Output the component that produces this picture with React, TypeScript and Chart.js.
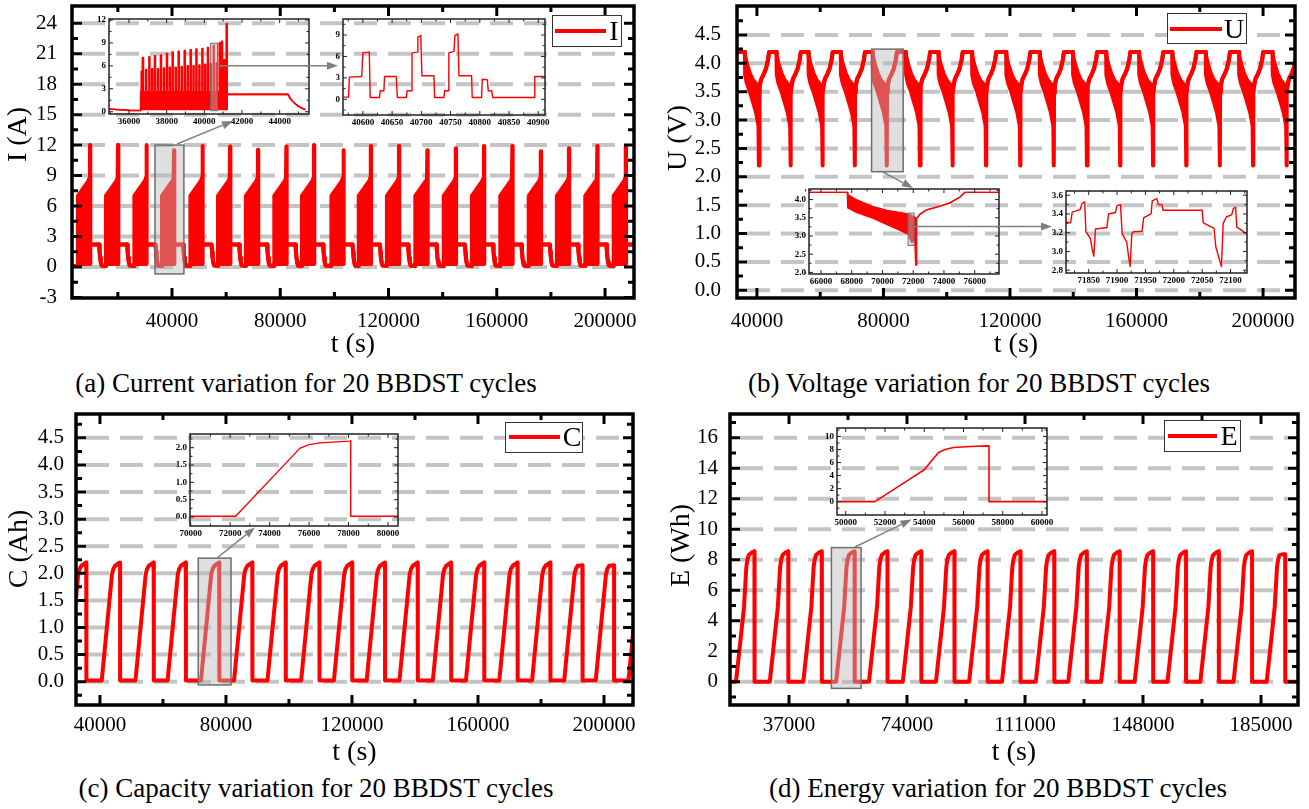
import React, { useEffect, useRef } from 'react';
import { Chart, registerables } from 'chart.js';

Chart.register(...registerables);

const SERIF = "'Liberation Serif', 'Times New Roman', serif";
const RED = '#ff0000';

// ================= (a) Current =================
const cycleStartsA = [5250, 15600, 26100, 36300, 46800, 57000, 67300, 77800, 88000, 98900, 109000, 119400, 129900, 140400, 150800, 161300, 171800, 182200, 192700, 203200];
const peakA = [12, 12, 12, 11.5, 11.9, 11.85, 11.55, 11.85, 12, 11.5, 11.9, 11.9, 11.5, 11.7, 11.9, 11.9, 11.4, 11.7, 11.9, 11.9];
const offsetA = [0, 0, 3950, 4300, 4450, 4570, 4570, 7820, 8000, 8200, 8450, 8750];
const upperA = [0.1, 7.0, 8.5, 8.8, null, null, 2.2, 2.2, 1.5, 0.9, 0.45, 0.15];
const lowerA = [0.1, 0.3, 0.3, 0.3, 0.3, 0.3, 2.2, 2.2, 1.5, 0.9, 0.45, 0.15];
const restA = 0.1;

// inset a1 (one cycle)
const a1PreT = [34938, 35500, 36000, 36620];
const a1PreV = [0.35, 0.25, 0.18, 0.15];
const a1ColT = [36674, 36743, 36913, 37083, 37232, 37381, 37540, 37699, 37858, 38018, 38169, 38320, 38480, 38639, 38798, 38958, 39117, 39276, 39427, 39579, 39738, 39898, 40046, 40195, 40346, 40498, 40657, 40817, 40939, 41060, 41188];
const a1ColV = [5.3, 7.07, 5.5, 7.2, 5.6, 7.3, 5.6, 7.4, 5.7, 7.6, 5.8, 7.8, 5.8, 7.9, 5.9, 8.0, 6.0, 8.1, 6.0, 8.2, 6.1, 8.25, 6.2, 8.4, 6.3, 8.7, 6.4, 9.0, 9.2, 6.8, 11.5];
const a1PostT = [41213, 44440, 44600, 44800, 45000, 45200, 45330];
const a1PostV = [2.27, 2.27, 1.6, 1.1, 0.7, 0.45, 0.3];
const a1BandTop = 2.6;
const a1BandBase = 0.3;
const a1ColHalf = 25;

// inset a2 (detail)
const a2T = [40566, 40575.5, 40577, 40598, 40600, 40611, 40612.5, 40628.5, 40629.6, 40636, 40637, 40657, 40659, 40674.4, 40675.6, 40683, 40684, 40693, 40694, 40699, 40701, 40721.5, 40722.7, 40738.7, 40739.8, 40746, 40747, 40755.7, 40757.4, 40762.6, 40764.3, 40786, 40787, 40803, 40804.3, 40812.8, 40814.5, 40820.3, 40822, 40892.8, 40894, 40911.5];
const a2V = [0.3, 0.3, 3.1, 3.2, 6.5, 6.6, 0.25, 0.25, 1.2, 1.2, 3.2, 3.2, 0.25, 0.25, 1.2, 1.2, 6.5, 6.6, 8.7, 8.9, 3.3, 3.3, 0.25, 0.25, 1.2, 1.2, 6.5, 6.7, 8.9, 9.15, 3.3, 3.3, 0.25, 0.25, 2.8, 2.75, 1.2, 1.2, 0.25, 0.25, 3.2, 3.2];

// ================= (b) Voltage =================
const cycleStartsB = [36200, 46200, 56300, 66500, 76600, 87100, 97400, 108000, 118800, 129400, 139900, 150400, 160800, 171300, 181900, 192400, 203000];
const offsetB = [0, 60, 600, 1600, 2600, 3550, 3960, 4300, 4420, 4480, 4521, 4740, 5170, 6035, 6684, 7333, 7657];
const upperB = [4.2, 4.14, 4.0, 3.82, 3.7, 3.64, 3.6, 3.55, 3.52, 3.5, 3.48, 3.6, 3.72, 3.82, 3.91, 4.07, 4.2];
const lowerB = [4.2, 3.8, 3.65, 3.5, 3.31, 3.13, 3.0, 2.9, 2.2, 2.2, 3.48, 3.6, 3.72, 3.82, 3.91, 4.07, 4.2];
const restB = 4.2;

// inset b1
const b1T = [65220, 67710, 67740, 68300, 69300, 70300, 71250, 71668, 71900, 72100, 72150, 72166, 72210, 72231, 72447, 72880, 73745, 74394, 75043, 75367, 77580];
const b1Up = [4.2, 4.2, 4.14, 4.0, 3.82, 3.7, 3.64, 3.6, 3.57, 3.52, 3.5, 3.5, 3.48, 3.48, 3.6, 3.72, 3.82, 3.91, 4.07, 4.2, 4.2];
const b1Lo = [4.2, 4.2, 3.77, 3.65, 3.5, 3.31, 3.13, 3.04, 2.82, 2.9, 2.3, 2.2, 2.2, 3.48, 3.6, 3.72, 3.82, 3.91, 4.07, 4.2, 4.2];

// inset b2
const b2T = [71809, 71818, 71821, 71835, 71838, 71843, 71845, 71853, 71856, 71859, 71862, 71882, 71885, 71897, 71900, 71906, 71909, 71917, 71920, 71923, 71926, 71929, 71944, 71947, 71960, 71962, 71970, 71973, 71979, 71981, 72050, 72052, 72071, 72074, 72084, 72087, 72093, 72102, 72105, 72109, 72111, 72120, 72129];
const b2V = [3.315, 3.305, 3.42, 3.447, 3.51, 3.53, 3.21, 3.14, 3.03, 2.95, 3.24, 3.255, 3.4, 3.415, 3.49, 3.5, 3.19, 3.1, 2.96, 2.84, 3.19, 3.21, 3.215, 3.36, 3.4, 3.54, 3.565, 3.5, 3.5, 3.44, 3.44, 3.305, 3.245, 3.05, 2.84, 3.3, 3.37, 3.39, 3.46, 3.47, 3.26, 3.225, 3.18];

// ================= (c) Capacity =================
const dropTimesC = [35700, 46400, 57100, 67300, 77900, 88400, 99000, 109700, 120100, 130500, 140900, 151500, 162000, 172600, 183000, 193200, 203200, 213600];
const peakC = [2.2, 2.2, 2.2, 2.2, 2.2, 2.2, 2.2, 2.2, 2.2, 2.2, 2.2, 2.2, 2.2, 2.2, 2.2, 2.15, 2.15, 2.2];
const offsetC = [-5830, -2580, -2160, -1570, -50, 0, 0];
const valueC = [0.02, 1.98, 2.08, 2.14, 2.2, 2.2, 0.02];

const cInT = [69965, 72277, 75530, 75950, 76540, 78060, 78110, 78110, 80506];
const cInV = [0.02, 0.02, 1.98, 2.08, 2.14, 2.19, 2.2, 0.02, 0.02];

// ================= (d) Energy =================
const dropTimesD = [26200, 36800, 47300, 57600, 67900, 78500, 88900, 99300, 109600, 120200, 130400, 140700, 151200, 161500, 171800, 182200, 192600];
const peakD = [8.55, 8.55, 8.55, 8.55, 8.55, 8.55, 8.55, 8.55, 8.55, 8.55, 8.55, 8.55, 8.55, 8.55, 8.55, 8.55, 8.35];
const offsetD = [-5818, -4370, -3300, -2584, -2240, -1815, -964, -28, 0, 0];
const valueD = [0, 2.8, 4.9, 7.5, 8.0, 8.3, 8.46, 8.55, 8.55, 0];

const dInT = [49555, 51482, 52930, 54000, 54716, 55060, 55485, 56336, 57272, 57300, 57300, 60255];
const dInV = [0, 0, 2.8, 4.9, 7.5, 8.0, 8.3, 8.46, 8.55, 8.55, 0, 0];

// highlight boxes [x0, x1, y0, y1] in data units
const boxA = [33700, 44400, -0.69, 12.0];
const boxA1 = [40338, 40695, 0.13, 8.96];
const boxB = [76250, 86230, 2.09, 4.25];
const boxB1 = [71668, 72057, 2.74, 3.63];
const boxC = [71200, 81600, -0.06, 2.28];
const boxD = [50300, 59600, -0.44, 8.79];

// ================= helpers =================
type Pt = { x: number; y: number };

function range(a: number, b: number, step: number) {
  const r: number[] = [];
  for (let v = a; v <= b + 1e-9; v += step) r.push(+v.toFixed(6));
  return r;
}

function bandFromCycles(starts: number[], offs: number[], up: any[], lo: any[], peaks: number[] | null, xMin: number, xMax: number, rest: number) {
  const U: Pt[] = [{ x: xMin, y: rest }];
  const L: Pt[] = [{ x: xMin, y: rest }];
  starts.forEach((s, k) => {
    offs.forEach((o, i) => {
      const pk = peaks ? peaks[k] : rest;
      U.push({ x: s + o, y: up[i] == null ? pk : up[i] });
      L.push({ x: s + o, y: lo[i] == null ? pk : lo[i] });
    });
  });
  if (U[U.length - 1].x < xMax) {
    U.push({ x: xMax, y: rest });
    L.push({ x: xMax, y: rest });
  }
  return [U, L];
}

function lineFromDrops(drops: number[], offs: number[], vals: number[], peaks: number[], xMin: number, xMax: number, base: number) {
  const P: Pt[] = [];
  drops.forEach((d, k) => offs.forEach((o, i) => P.push({ x: d + o, y: Math.min(vals[i], peaks[k]) })));
  if (P[0].x > xMin) P.unshift({ x: xMin, y: base });
  if (P[P.length - 1].x < xMax) P.push({ x: xMax, y: base });
  return P;
}

function zip(t: number[], v: number[]): Pt[] {
  return t.map((x, i) => ({ x, y: v[i] }));
}

function a1Band() {
  const U: Pt[] = [];
  const L: Pt[] = [];
  a1PreT.forEach((t, i) => { U.push({ x: t, y: a1PreV[i] }); L.push({ x: t, y: a1PreV[i] }); });
  U.push({ x: a1PreT[a1PreT.length - 1], y: a1BandTop });
  L.push({ x: a1PreT[a1PreT.length - 1], y: a1BandBase });
  a1ColT.forEach((t, i) => {
    const v = a1ColV[i];
    [[t - a1ColHalf, a1BandTop], [t - a1ColHalf, v], [t + a1ColHalf, v], [t + a1ColHalf, a1BandTop]].forEach(([x, y]) => {
      U.push({ x, y });
      L.push({ x, y: a1BandBase });
    });
  });
  a1PostT.forEach((t, i) => { U.push({ x: t, y: a1PostV[i] }); L.push({ x: t, y: a1PostV[i] }); });
  return [U, L];
}

function bandSets(U: Pt[], L: Pt[], w: number) {
  return [
    { data: U, borderColor: RED, backgroundColor: RED, borderWidth: w, pointRadius: 0, fill: '+1', tension: 0, borderJoinStyle: 'round', borderCapStyle: 'round' },
    { data: L, borderColor: RED, backgroundColor: RED, borderWidth: w, pointRadius: 0, fill: false, tension: 0, borderJoinStyle: 'round', borderCapStyle: 'round' },
  ];
}
function lineSet(P: Pt[], w: number) {
  return [{ data: P, borderColor: RED, borderWidth: w, pointRadius: 0, fill: false, tension: 0, borderJoinStyle: 'round', borderCapStyle: 'butt' }];
}

const fmtInt = (v: number) => String(Math.round(v));
const fmt1 = (v: number) => v.toFixed(1);

const MAIN_TICK = { family: SERIF, size: 21 };
const TITLE_FONT = { family: SERIF, size: 28, lineHeight: 1 };
const INSET_TICK = { family: SERIF, size: 9, weight: 'bold' };

const mainStyle = { frameWidth: 3.5, tickWidth: 3, majorLen: 10, minorLen: 6, grid: true, gridWidth: 4, gridDash: [23, 11], gridInset: 10, boxLine: 1.5, frameColor: '#000' };
const insetStyle = { frameWidth: 1.5, tickWidth: 1, majorLen: 4, minorLen: 2.5, grid: false, boxLine: 1, frameColor: '#222' };

// ================= specs =================
const [aU, aL] = bandFromCycles(cycleStartsA, offsetA, upperA, lowerA, peakA, 3050, 210700, restA);
const [bU, bL] = bandFromCycles(cycleStartsB, offsetB, upperB, lowerB, null, 33700, 210100, restB);
const cLine = lineFromDrops(dropTimesC, offsetC, valueC, peakC, 32400, 209200, 0.02);
const dLine = lineFromDrops(dropTimesD, offsetD, valueD, peakD, 18500, 196600, 0);
const [a1U, a1L] = a1Band();

// leading spaces lift the rotated axis titles above the axis centre, as in the original
const specA = {
  ...mainStyle, rect: { L: 72, T: 6, R: 634, B: 298 }, yw: 72, xh: 62, pt: 6, pr: 26,
  xMin: 3050, xMax: 210700, yMin: -3.06, yMax: 25.7,
  xTicks: range(40000, 200000, 40000), xMinor: range(20000, 180000, 40000),
  yTicks: range(-3, 24, 3), yMinor: range(-1.5, 22.5, 3), gridVals: range(0, 24, 3),
  xFmt: fmtInt, yFmt: fmtInt, tickFont: MAIN_TICK, xPad: 11, yPad: 15,
  xTitle: 't (s)', yTitle: '     I (A)', xTitlePad: 1, yTitlePad: 5,
  boxes: [boxA], datasets: bandSets(aU, aL, 4),
};
const specB = {
  ...mainStyle, rect: { L: 737, T: 6, R: 1295, B: 298 }, yw: 77, xh: 62, pt: 6, pr: 14,
  xMin: 33700, xMax: 210100, yMin: -0.136, yMax: 5.01,
  xTicks: range(40000, 200000, 40000), xMinor: range(60000, 180000, 40000),
  yTicks: range(0, 4.5, 0.5), yMinor: range(0.25, 4.75, 0.5), gridVals: range(0, 4.5, 0.5),
  xFmt: fmtInt, yFmt: fmt1, tickFont: MAIN_TICK, xPad: 11, yPad: 16,
  xTitle: 't (s)', yTitle: '    U (V)', xTitlePad: 1, yTitlePad: 5,
  boxes: [boxB], datasets: bandSets(bU, bL, 4),
};
const specC = {
  ...mainStyle, rect: { L: 76, T: 414, R: 633, B: 705 }, yw: 76, xh: 63, pt: 14, pr: 27,
  xMin: 32400, xMax: 209200, yMin: -0.43, yMax: 4.94,
  xTicks: range(40000, 200000, 40000), xMinor: range(60000, 180000, 40000),
  yTicks: range(0, 4.5, 0.5), yMinor: range(-0.25, 4.75, 0.5), gridVals: range(0, 4.5, 0.5),
  xFmt: fmtInt, yFmt: fmt1, tickFont: MAIN_TICK, xPad: 8, yPad: 12,
  xTitle: 't (s)', yTitle: '   C (Ah)', xTitlePad: 1, yTitlePad: 6,
  boxes: [boxC], datasets: lineSet(cLine, 4),
};
const specD = {
  ...mainStyle, rect: { L: 730, T: 414, R: 1298, B: 705 }, yw: 70, xh: 63, pt: 14, pr: 11,
  xMin: 18500, xMax: 196600, yMin: -1.53, yMax: 17.55,
  xTicks: range(37000, 185000, 37000), xMinor: range(55500, 166500, 37000),
  yTicks: range(0, 16, 2), yMinor: range(-1, 17, 2), gridVals: range(0, 16, 2),
  xFmt: fmtInt, yFmt: fmtInt, tickFont: MAIN_TICK, xPad: 8, yPad: 12,
  xTitle: 't (s)', yTitle: '    E (Wh)', xTitlePad: 1, yTitlePad: 8,
  boxes: [boxD], datasets: lineSet(dLine, 4),
};

const insetBase = { ...insetStyle, tickFont: INSET_TICK, xPad: 2, yPad: 3, yw: 22, xh: 14, pt: 3, pr: 8 };

const specA1 = {
  ...insetBase, rect: { L: 109, T: 19, R: 309, B: 114 },
  xMin: 34938, xMax: 45558, yMin: -0.3, yMax: 12.13,
  xTicks: range(36000, 44000, 2000), xMinor: range(35000, 45000, 2000),
  yTicks: range(0, 12, 3), yMinor: range(1.5, 10.5, 3),
  xFmt: fmtInt, yFmt: fmtInt, boxes: [boxA1], datasets: bandSets(a1U, a1L, 1.6),
};
const specA2 = {
  ...insetBase, rect: { L: 343, T: 19, R: 545, B: 115 },
  xMin: 40566, xMax: 40911.5, yMin: -2.2, yMax: 11.24,
  xTicks: range(40600, 40900, 50), xMinor: range(40575, 40875, 50),
  yTicks: range(0, 9, 3), yMinor: range(-1.5, 10.5, 3),
  xFmt: fmtInt, yFmt: fmtInt, boxes: [], datasets: lineSet(zip(a2T, a2V), 1.4),
};
const specB1 = {
  ...insetBase, rect: { L: 809, T: 189, R: 999, B: 274 },
  xMin: 65220, xMax: 77580, yMin: 1.956, yMax: 4.29,
  xTicks: range(66000, 76000, 2000), xMinor: range(65000, 77000, 2000),
  yTicks: range(2, 4, 0.5), yMinor: range(2.25, 4.25, 0.5),
  xFmt: fmtInt, yFmt: fmt1, boxes: [boxB1], datasets: bandSets(zip(b1T, b1Up), zip(b1T, b1Lo), 1.3),
};
const specB2 = {
  ...insetBase, rect: { L: 1066, T: 191, R: 1247, B: 273 },
  xMin: 71810, xMax: 72129, yMin: 2.77, yMax: 3.645,
  xTicks: range(71850, 72100, 50), xMinor: range(71825, 72125, 50),
  yTicks: range(2.8, 3.6, 0.2), yMinor: range(2.9, 3.5, 0.2),
  xFmt: fmtInt, yFmt: fmt1, boxes: [], datasets: lineSet(zip(b2T, b2V), 1.4),
};
const specCI = {
  ...insetBase, rect: { L: 190, T: 434, R: 398, B: 526 }, yw: 20,
  xMin: 69965, xMax: 80506, yMin: -0.26, yMax: 2.395,
  xTicks: range(70000, 80000, 2000), xMinor: range(71000, 79000, 2000),
  yTicks: range(0, 2, 0.5), yMinor: range(0.25, 2.25, 0.5),
  xFmt: fmtInt, yFmt: fmt1, boxes: [], datasets: lineSet(zip(cInT, cInV), 1.4),
};
const specDI = {
  ...insetBase, rect: { L: 837, T: 428, R: 1047, B: 515 }, yw: 20,
  xMin: 49555, xMax: 60255, yMin: -2.05, yMax: 11.3,
  xTicks: range(50000, 60000, 2000), xMinor: range(51000, 59000, 2000),
  yTicks: range(0, 10, 2), yMinor: range(-1, 11, 2),
  xFmt: fmtInt, yFmt: fmtInt, boxes: [], datasets: lineSet(zip(dInT, dInV), 1.6),
};

const allSpecs = [specA, specB, specC, specD, specA1, specA2, specB1, specB2, specCI, specDI];

// ================= chart construction =================
function makeFramePlugin(f: any) {
  return {
    id: 'frame',
    beforeDatasetsDraw(chart: any) {
      if (!f.grid) return;
      const { ctx, chartArea: a, scales } = chart;
      ctx.save();
      ctx.strokeStyle = '#c4c4c4';
      ctx.lineWidth = f.gridWidth;
      ctx.setLineDash(f.gridDash);
      f.gridVals.forEach((v: number) => {
        const y = scales.y.getPixelForValue(v);
        ctx.beginPath();
        ctx.moveTo(a.left + f.gridInset, y);
        ctx.lineTo(a.right - f.gridInset, y);
        ctx.stroke();
      });
      ctx.restore();
    },
    afterDatasetsDraw(chart: any) {
      const { ctx, chartArea: a, scales } = chart;
      const xs = scales.x;
      const ys = scales.y;
      ctx.save();
      (f.boxes || []).forEach((b: number[]) => {
        const X0 = xs.getPixelForValue(b[0]);
        const X1 = xs.getPixelForValue(b[1]);
        const Y0 = ys.getPixelForValue(b[2]);
        const Y1 = ys.getPixelForValue(b[3]);
        ctx.fillStyle = 'rgba(184,184,184,0.45)';
        ctx.fillRect(X0, Y1, X1 - X0, Y0 - Y1);
        ctx.strokeStyle = '#6e6e6e';
        ctx.lineWidth = f.boxLine;
        ctx.strokeRect(X0, Y1, X1 - X0, Y0 - Y1);
      });
      ctx.strokeStyle = f.frameColor;
      ctx.lineWidth = f.tickWidth;
      ctx.lineCap = 'butt';
      const drawX = (vals: number[], len: number) => vals.forEach((v) => {
        const x = xs.getPixelForValue(v);
        ctx.beginPath();
        ctx.moveTo(x, a.bottom); ctx.lineTo(x, a.bottom - len);
        ctx.moveTo(x, a.top); ctx.lineTo(x, a.top + len);
        ctx.stroke();
      });
      const drawY = (vals: number[], len: number) => vals.forEach((v) => {
        const y = ys.getPixelForValue(v);
        ctx.beginPath();
        ctx.moveTo(a.left, y); ctx.lineTo(a.left + len, y);
        ctx.moveTo(a.right, y); ctx.lineTo(a.right - len, y);
        ctx.stroke();
      });
      drawX(f.xTicks, f.majorLen);
      drawX(f.xMinor, f.minorLen);
      drawY(f.yTicks, f.majorLen);
      drawY(f.yMinor, f.minorLen);
      ctx.lineWidth = f.frameWidth;
      ctx.strokeRect(a.left, a.top, a.right - a.left, a.bottom - a.top);
      ctx.restore();
    },
  };
}

function buildConfig(f: any): any {
  return {
    type: 'line',
    data: { datasets: f.datasets },
    options: {
      responsive: false,
      maintainAspectRatio: false,
      animation: false,
      devicePixelRatio: 1,
      events: [],
      layout: { padding: { left: 0, top: f.pt, right: f.pr, bottom: 0 } },
      plugins: { legend: { display: false }, tooltip: { enabled: false } },
      scales: {
        x: {
          type: 'linear', min: f.xMin, max: f.xMax,
          grid: { display: false, drawTicks: false, tickLength: 0 },
          border: { display: false },
          ticks: { autoSkip: false, maxRotation: 0, minRotation: 0, padding: f.xPad, color: '#000', font: f.tickFont, callback: (v: number) => f.xFmt(v) },
          afterBuildTicks: (s: any) => { s.ticks = f.xTicks.map((v: number) => ({ value: v })); },
          afterFit: (s: any) => { s.height = f.xh; s.paddingLeft = 0; s.paddingRight = 0; },
          title: f.xTitle ? { display: true, text: f.xTitle, color: '#000', font: TITLE_FONT, padding: { top: 0, bottom: f.xTitlePad } } : { display: false },
        },
        y: {
          type: 'linear', min: f.yMin, max: f.yMax,
          grid: { display: false, drawTicks: false, tickLength: 0 },
          border: { display: false },
          ticks: { autoSkip: false, padding: f.yPad, color: '#000', font: f.tickFont, callback: (v: number) => f.yFmt(v) },
          afterBuildTicks: (s: any) => { s.ticks = f.yTicks.map((v: number) => ({ value: v })); },
          afterFit: (s: any) => { s.width = f.yw; s.paddingTop = 0; s.paddingBottom = 0; },
          title: f.yTitle ? { display: true, text: f.yTitle, color: '#000', font: TITLE_FONT, padding: { top: f.yTitlePad, bottom: 0 } } : { display: false },
        },
      },
    },
    plugins: [makeFramePlugin(f)],
  };
}

function ChartBox({ spec }: { spec: any }) {
  const ref = useRef<HTMLCanvasElement | null>(null);
  const { rect, yw, xh, pt, pr } = spec;
  const w = yw + (rect.R - rect.L) + pr;
  const h = pt + (rect.B - rect.T) + xh;
  useEffect(() => {
    const canvas = ref.current;
    if (!canvas) return;
    const chart = new Chart(canvas, buildConfig(spec));
    return () => chart.destroy();
  }, [spec]);
  return (
    <canvas
      ref={ref}
      width={w}
      height={h}
      style={{ position: 'absolute', left: rect.L - yw, top: rect.T - pt, width: w, height: h }}
    />
  );
}

// ================= decorations =================
const arrows = [
  [177, 144, 233, 121],
  [218, 65.7, 338, 65.7],
  [883, 172, 913, 188],
  [914, 226.5, 1052, 226.5],
  [217, 558, 255, 527.5],
  [855, 547, 911.5, 519.5],
];

const legends = [
  { left: 552, top: 15, w: 70, h: 32, x1: 555, x2: 606, ly: 31, tx: 614, label: 'I' },
  { left: 1167, top: 13, w: 80, h: 31, x1: 1170, x2: 1222, ly: 29, tx: 1234, label: 'U' },
  { left: 505, top: 422, w: 78, h: 31, x1: 509, x2: 560, ly: 437, tx: 572, label: 'C' },
  { left: 1164, top: 420, w: 77, h: 32, x1: 1168, x2: 1217, ly: 436, tx: 1229, label: 'E' },
];

const captions = [
  { cx: 306, cy: 383, text: '(a) Current variation for 20 BBDST cycles' },
  { cx: 979, cy: 383, text: '(b) Voltage variation for 20 BBDST cycles' },
  { cx: 316, cy: 788, text: '(c) Capacity variation for 20 BBDST cycles' },
  { cx: 998, cy: 788, text: '(d) Energy variation for 20 BBDST cycles' },
];

function Arrow({ a }: { a: number[] }) {
  const [x1, y1, x2, y2] = a;
  const dx = x2 - x1;
  const dy = y2 - y1;
  const len = Math.hypot(dx, dy);
  const ux = dx / len;
  const uy = dy / len;
  const hl = 11;
  const hw = 4;
  const bx = x2 - ux * hl;
  const by = y2 - uy * hl;
  const p1 = `${bx - uy * hw},${by + ux * hw}`;
  const p2 = `${bx + uy * hw},${by - ux * hw}`;
  return (
    <g>
      <line x1={x1} y1={y1} x2={bx} y2={by} stroke="#808080" strokeWidth={1.5} />
      <polygon points={`${x2},${y2} ${p1} ${p2}`} fill="#808080" />
    </g>
  );
}

export default function App() {
  return (
    <div style={{ position: 'fixed', left: 0, top: 0, width: 1309, height: 809, background: '#fff', overflow: 'hidden', fontFamily: SERIF }}>
      {allSpecs.map((s, i) => <ChartBox key={i} spec={s} />)}
      {legends.map((l, i) => (
        <React.Fragment key={'lg' + i}>
          <div style={{ position: 'absolute', left: l.left, top: l.top, width: l.w, height: l.h, border: '1.5px solid #333', background: '#fff', boxSizing: 'border-box' }} />
          <div style={{ position: 'absolute', left: l.x1, top: l.ly - 2, width: l.x2 - l.x1, height: 4, background: RED }} />
          <div style={{ position: 'absolute', left: l.tx - 20, width: 40, top: l.ly - 16, height: 32, lineHeight: '32px', textAlign: 'center', fontSize: 28, fontFamily: SERIF, color: '#000' }}>{l.label}</div>
        </React.Fragment>
      ))}
      {captions.map((c, i) => (
        <div key={'cp' + i} style={{ position: 'absolute', left: c.cx - 320, width: 640, top: c.cy - 16, height: 32, lineHeight: '32px', textAlign: 'center', fontSize: 27, fontFamily: SERIF, color: '#000', whiteSpace: 'nowrap' }}>{c.text}</div>
      ))}
      <svg width={1309} height={809} style={{ position: 'absolute', left: 0, top: 0, pointerEvents: 'none' }}>
        {arrows.map((a, i) => <Arrow key={i} a={a} />)}
      </svg>
    </div>
  );
}
